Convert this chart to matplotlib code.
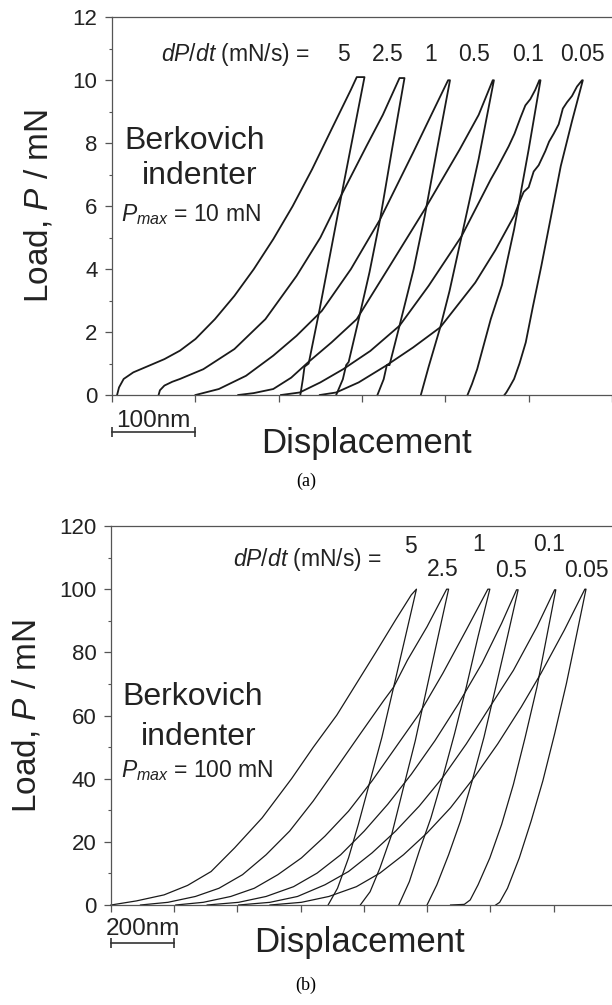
import matplotlib
matplotlib.use("Agg")
import matplotlib.pyplot as plt
import matplotlib.transforms as mtransforms

plt.rcParams['font.family'] = ['Liberation Sans', 'DejaVu Sans']
plt.rcParams['mathtext.fontset'] = 'custom'
plt.rcParams['mathtext.rm'] = 'Liberation Sans'
plt.rcParams['mathtext.it'] = 'Liberation Sans:italic'

#======= Data: panel (a), Pmax = 10 mN (displacement nm, load mN) =======
rates = ['5', '2.5', '1', '0.5', '0.1', '0.05']

a_h_5 = [6.1, 8.4, 14.0, 25.6, 44.3, 62.9, 81.6, 100.2, 123.5, 146.9, 170.2, 193.5, 216.8, 240.1, 263.4, 286.7, 293.7, 303.0,
         289, 275, 262, 249, 236, 231, 229, 226]
a_p_5 = [0, 0.24, 0.51, 0.72, 0.93, 1.14, 1.41, 1.78, 2.41, 3.15, 4.0, 4.95, 6.0, 7.17, 8.44, 9.7, 10.1, 10.1,
         8.2, 6.3, 4.5, 2.7, 1.0, 0.9, 0.5, 0]
a_h_25 = [55.9, 57.5, 62.9, 72.3, 81.6, 109.6, 146.9, 184.1, 221.4, 250, 272.7, 305.4, 325, 345.0, 351.0,
          336, 321.7, 309, 296, 284, 281, 277, 269]
a_p_25 = [0, 0.15, 0.30, 0.42, 0.51, 0.82, 1.46, 2.41, 3.78, 5.0, 6.22, 7.91, 8.9, 10.07, 10.07,
          7.8, 5.58, 3.9, 2.4, 1.05, 0.95, 0.5, 0]
a_h_1 = [100.2, 128.2, 160.8, 193.5, 221.4, 251.7, 286.7, 321.7, 361.3, 385, 403.3, 405.6,
         390, 375.3, 362, 345, 333, 329.8, 326, 318.5]
a_p_1 = [0, 0.19, 0.61, 1.25, 1.88, 2.67, 4.0, 5.58, 7.70, 9.0, 10.0, 10.0,
         7.8, 5.69, 4.0, 2.2, 0.95, 0.95, 0.5, 0]
a_h_05 = [151.5, 170, 193.5, 215, 235.4, 263.4, 293.7, 333.3, 375.3, 417.2, 440, 456.9, 458.3,
          440, 419.6, 405, 393.9, 380, 370.6]
a_p_05 = [0, 0.06, 0.19, 0.55, 1.04, 1.67, 2.41, 4.10, 5.90, 7.80, 8.9, 10.0, 10.0,
          7.5, 5.05, 3.3, 2.15, 0.9, 0]
a_h_01 = [202.8, 225.2, 250, 277.4, 310, 345.0, 380.0, 419.6, 454.5, 462, 470, 476, 483, 490, 496, 502, 508, 512.8, 514.2,
          500, 482.5, 468, 454.5, 438.2, 432, 426.6]
a_p_01 = [0, 0.08, 0.4, 0.82, 1.4, 2.20, 3.47, 5.05, 6.85, 7.2, 7.6, 7.9, 8.3, 8.8, 9.2, 9.4, 9.7, 10.0, 10.0,
          7.8, 5.26, 3.5, 2.41, 0.82, 0.35, 0]
a_h_005 = [249.4, 269.0, 296.0, 328.7, 361.3, 393.9, 435.9, 460, 482.5, 490, 494, 500, 506, 512, 520, 524.5, 530, 536,
           541, 546, 552, 558, 564.1, 565.0,
           552, 538.5, 527, 515.2, 505, 496.5, 489, 482.5, 477, 473.2, 470.9]
a_p_005 = [0, 0.08, 0.40, 0.93, 1.51, 2.15, 3.57, 4.6, 5.69, 6.2, 6.45, 6.6, 7.1, 7.3, 7.75, 8.05, 8.3, 8.6,
           9.1, 9.3, 9.5, 9.8, 10.0, 10.0,
           8.7, 7.27, 5.7, 4.10, 2.8, 1.67, 1.0, 0.51, 0.25, 0.08, 0]

#======= Data: panel (b), Pmax = 100 mN =======
b_h_5 = [0, 80.7, 167.7, 242.2, 316.7, 391.2, 478.2, 571.3, 639.6, 714.2, 776.3, 838.4, 900.5, 950.1, 966.3,
         931.5, 894.2, 857.0, 819.7, 782.5, 751.4, 716.6, 686.8]
b_p_5 = [0, 1.3, 3.2, 6.2, 10.6, 18.1, 27.6, 40.0, 49.9, 60.1, 70.1, 80.1, 90.3, 98.2, 100.0,
         85.0, 69.0, 53.1, 39.3, 25.5, 14.9, 5.3, 0]
b_h_25 = [93.2, 180.1, 267.0, 341.6, 416.1, 490.6, 565.1, 639.6, 714.2, 788.7, 863.2, 894.2, 937.7, 999.8, 1061.9, 1068.1,
          1037.1, 999.8, 962.6, 925.3, 888.0, 850.8, 819.7, 788.7]
b_p_25 = [0, 0.85, 2.7, 5.3, 9.6, 15.9, 23.4, 32.9, 43.5, 54.2, 64.8, 69.0, 77.5, 88.1, 100.0, 100.0,
          86.0, 69.0, 52.0, 37.2, 22.3, 11.7, 4.2, 0]
b_h_1 = [204.9, 291.9, 378.8, 453.3, 527.9, 602.4, 676.9, 751.4, 825.9, 900.5, 975.0, 1049.5, 1124.0, 1192.3, 1198.5,
         1161.3, 1124.0, 1086.8, 1049.5, 1012.2, 975.0, 943.9, 910.4]
b_p_1 = [0, 0.85, 2.7, 5.3, 9.6, 14.9, 21.8, 29.7, 39.3, 49.9, 60.5, 73.3, 87.1, 100.0, 100.0,
         85.0, 69.0, 54.2, 40.4, 27.6, 17.0, 7.4, 0]
b_h_05 = [304.3, 403.7, 490.6, 577.5, 652.1, 726.6, 801.1, 875.6, 950.1, 1024.7, 1099.2, 1173.7, 1235.8, 1283.0, 1288.0,
          1254.4, 1217.2, 1179.9, 1142.6, 1105.4, 1068.1, 1030.9, 999.8]
b_p_05 = [0, 0.85, 2.7, 5.8, 10.1, 15.9, 23.4, 31.9, 41.4, 52.0, 63.7, 76.5, 89.2, 99.8, 99.8,
          85.0, 69.0, 53.1, 39.3, 26.5, 15.9, 6.4, 0]
b_h_01 = [403.7, 503.0, 590.0, 676.9, 751.4, 825.9, 900.5, 975.0, 1049.5, 1124.0, 1198.5, 1273.1, 1347.6, 1403.5, 1407.2,
          1378.6, 1347.6, 1310.3, 1273.1, 1235.8, 1198.5, 1161.3, 1136.4, 1117.8, 1074.3]
b_p_01 = [0, 0.85, 2.7, 6.4, 10.6, 16.5, 23.4, 31.3, 40.4, 51.0, 62.7, 74.3, 88.1, 99.8, 99.8,
          85.0, 69.0, 53.1, 38.2, 25.5, 14.9, 6.4, 1.6, 0.2, 0]
b_h_005 = [503.0, 602.4, 689.3, 776.3, 850.8, 925.3, 999.8, 1074.3, 1148.9, 1223.4, 1297.9, 1360.0, 1434.5, 1499.1, 1502.8,
           1471.8, 1440.7, 1403.5, 1366.2, 1328.9, 1291.7, 1254.4, 1229.6, 1217.2]
b_p_005 = [0, 0.85, 2.7, 5.8, 10.1, 15.9, 22.8, 30.8, 40.4, 51.0, 62.7, 73.3, 87.1, 100.0, 100.0,
           85.0, 70.1, 54.2, 39.3, 26.5, 14.9, 5.3, 0.85, 0]

# label positions (nm, mN) for the rate numbers
a_label_h = [278, 331, 382, 435, 499, 565]
a_label_p = [10.81] * 6
b_label_h = [948, 1050, 1164, 1267, 1385, 1505]
b_label_p = [113.6, 106.2, 114.2, 106.0, 114.2, 106.0]

INK = '#1a1a1a'
TXT = '#222222'
AX = '#555555'

#======= Figure =========================
fig = plt.figure(figsize=(6.12, 10.05), dpi=100)
ax_a = fig.add_axes([112 / 612, 1 - 395 / 1005, 500 / 612, 377.7 / 1005])
ax_b = fig.add_axes([111 / 612, 1 - 905 / 1005, 501 / 612, 379 / 1005])


def style_axes(ax, xmax, xstep, ymax, ystep, yminor):
    ax.set_xlim(0, xmax)
    ax.set_ylim(0, ymax)
    ax.spines['right'].set_visible(False)
    for s in ['left', 'bottom', 'top']:
        ax.spines[s].set_color(AX)
        ax.spines[s].set_linewidth(0.9)
    ax.set_xticks(list(range(0, int(xmax) + 1, xstep)))
    ax.set_xticklabels([])
    ax.set_yticks(list(range(0, ymax + 1, ystep)))
    ax.set_yticks(list(range(0, ymax + 1, yminor)), minor=True)
    ax.tick_params(axis='both', which='major', direction='out', length=5, width=0.9,
                   color=AX, labelsize=16, labelcolor=TXT, pad=5.5)
    ax.tick_params(axis='y', which='minor', direction='out', length=2.5, width=0.8, color=AX)


style_axes(ax_a, 600, 100, 12, 2, 1)
style_axes(ax_b, 1585, 200, 120, 20, 10)

curves_a = [(a_h_5, a_p_5), (a_h_25, a_p_25), (a_h_1, a_p_1),
            (a_h_05, a_p_05), (a_h_01, a_p_01), (a_h_005, a_p_005)]
curves_b = [(b_h_5, b_p_5), (b_h_25, b_p_25), (b_h_1, b_p_1),
            (b_h_05, b_p_05), (b_h_01, b_p_01), (b_h_005, b_p_005)]

for h, p in curves_a:
    ax_a.plot(h, p, color=INK, lw=1.3, clip_on=False)
for h, p in curves_b:
    ax_b.plot(h, p, color=INK, lw=0.9, clip_on=False)

for ax, lh, lp in [(ax_a, a_label_h, a_label_p), (ax_b, b_label_h, b_label_p)]:
    for r, x, y in zip(rates, lh, lp):
        ax.text(x, y, r, ha='center', va='center', fontsize=16.5, color=TXT)

ax_a.text(237, 10.81, r'$dP/dt$ (mN/s) =', ha='right', va='center', fontsize=16.5, color=TXT)
ax_b.text(857, 109.4, r'$dP/dt$ (mN/s) =', ha='right', va='center', fontsize=16.5, color=TXT)

# indenter annotation
ax_a.text(99, 8.07, 'Berkovich', ha='center', va='center', fontsize=23, color=TXT)
ax_a.text(105, 6.96, 'indenter', ha='center', va='center', fontsize=23, color=TXT)
ax_a.text(11, 5.74, r'$P_{max}$ = 10 mN', ha='left', va='center', fontsize=16.5, color=TXT)
ax_b.text(260, 65.8, 'Berkovich', ha='center', va='center', fontsize=23, color=TXT)
ax_b.text(276, 53.1, 'indenter', ha='center', va='center', fontsize=23, color=TXT)
ax_b.text(31, 42.5, r'$P_{max}$ = 100 mN', ha='left', va='center', fontsize=16.5, color=TXT)

# axis labels
ax_a.set_ylabel(r'Load, $P$ / mN', fontsize=24, color=TXT)
ax_a.yaxis.set_label_coords(-0.114, 0.5)
ax_b.set_ylabel(r'Load, $P$ / mN', fontsize=24, color=TXT)
ax_b.yaxis.set_label_coords(-0.136, 0.5)
ax_a.text(0.508, -0.154, 'Displacement', transform=ax_a.transAxes, ha='center', va='baseline',
          fontsize=25, color=TXT)
ax_b.text(0.495, -0.123, 'Displacement', transform=ax_b.transAxes, ha='center', va='baseline',
          fontsize=25, color=TXT)

# scale bars
for ax, length, ybar, ytxt in [(ax_a, 100, -0.097, -0.085), (ax_b, 200, -0.0995, -0.079)]:
    trans = mtransforms.blended_transform_factory(ax.transData, ax.transAxes)
    ax.plot([0, length], [ybar, ybar], color='#333333', lw=1.2, marker='|', markersize=7,
            mew=1.2, transform=trans, clip_on=False)
    ax.text(length / 2, ytxt, f'{length}nm', transform=trans, ha='center', va='baseline',
            fontsize=17.5, color=TXT)

fig.text(0.5, 1 - 481 / 1005, '(a)', ha='center', va='center', fontsize=13, family='Liberation Serif')
fig.text(0.5, 1 - 985 / 1005, '(b)', ha='center', va='center', fontsize=13, family='Liberation Serif')

fig.savefig('out.png', dpi=100, facecolor='white')
